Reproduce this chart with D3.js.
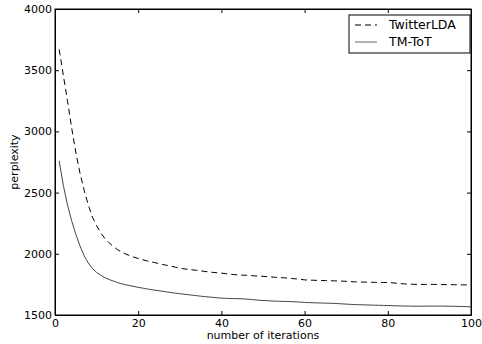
<!DOCTYPE html>
<html lang="en">
<head>
    <style>
        body { margin: 0; background: #fff; }
        text { font-family: "DejaVu Sans", sans-serif; fill: #000; }
        .axis path, .axis line { stroke: #000; }
    </style>
    <script src="https://cdn.jsdelivr.net/npm/d3@7"></script>
</head>
<body>
    <svg id="chartContainer" width="482" height="344"></svg>
<script>
    // perplexity per iteration (1..100)
    var twitterLDA = [
        3670, 3460, 3250, 3030, 2830, 2660, 2520, 2400, 2300, 2230,
        2170, 2125, 2090, 2060, 2035, 2015, 1998, 1985, 1972, 1962,
        1952, 1943, 1935, 1928, 1920, 1912, 1905, 1898, 1890, 1882,
        1877, 1873, 1869, 1865, 1860, 1856, 1852, 1848, 1845, 1842,
        1838, 1834, 1830, 1828, 1826, 1824, 1822, 1820, 1818, 1816,
        1813, 1810, 1808, 1806, 1804, 1801, 1798, 1795, 1791, 1787,
        1785, 1784, 1783, 1782, 1781, 1780, 1779, 1778, 1777, 1775,
        1773, 1771, 1770, 1769, 1768, 1767, 1767, 1766, 1766, 1765,
        1763, 1760, 1757, 1754, 1752, 1751, 1750, 1750, 1750, 1750,
        1750, 1749, 1749, 1748, 1748, 1747, 1747, 1746, 1746, 1745
    ];
    var tmToT = [
        2760, 2560, 2400, 2270, 2160, 2065, 1985, 1925, 1880, 1848,
        1825, 1805, 1790, 1778, 1765, 1755, 1747, 1740, 1733, 1726,
        1720, 1714, 1708, 1703, 1698, 1693, 1688, 1683, 1678, 1674,
        1670, 1666, 1662, 1658, 1654, 1650, 1647, 1644, 1641, 1638,
        1636, 1635, 1634, 1633, 1632, 1630, 1627, 1624, 1621, 1618,
        1617, 1615, 1613, 1612, 1611, 1610, 1609, 1607, 1605, 1603,
        1601, 1600, 1599, 1598, 1597, 1596, 1595, 1593, 1591, 1589,
        1587, 1585, 1584, 1583, 1582, 1581, 1580, 1579, 1578, 1577,
        1576, 1575, 1574, 1573, 1573, 1572, 1572, 1572, 1572, 1573,
        1573, 1573, 1573, 1572, 1572, 1571, 1570, 1569, 1568, 1567
    ];
    var seriesNames = ["TwitterLDA", "TM-ToT"];
    var xTicks = [0, 20, 40, 60, 80, 100];
    var yTicks = [1500, 2000, 2500, 3000, 3500, 4000];

    var svg = d3.select("svg"),
        plotLeft = 55, plotRight = 471, plotTop = 9, plotBottom = 315;

    var xScale = d3.scaleLinear().domain([0, 100]).range([plotLeft, plotRight]),
        yScale = d3.scaleLinear().domain([1500, 4000]).range([plotBottom, plotTop]);

    // inward ticks on all four sides
    svg.append("g").attr("class", "axis")
       .attr("transform", "translate(0," + plotBottom + ")")
       .call(d3.axisBottom(xScale).tickValues(xTicks).tickSize(-4).tickPadding(4).tickSizeOuter(0))
       .selectAll("text").style("font-size", "11px");
    svg.append("g").attr("class", "axis")
       .attr("transform", "translate(0," + plotTop + ")")
       .call(d3.axisTop(xScale).tickValues(xTicks).tickSize(-4).tickFormat("").tickSizeOuter(0));
    svg.append("g").attr("class", "axis")
       .attr("transform", "translate(" + plotLeft + ",0)")
       .call(d3.axisLeft(yScale).tickValues(yTicks).tickFormat(d3.format("d"))
               .tickSize(-4).tickPadding(3).tickSizeOuter(0))
       .selectAll("text").style("font-size", "11px");
    svg.append("g").attr("class", "axis")
       .attr("transform", "translate(" + plotRight + ",0)")
       .call(d3.axisRight(yScale).tickValues(yTicks).tickSize(-4).tickFormat("").tickSizeOuter(0));

    svg.append("rect")
       .attr("x", plotLeft).attr("y", plotTop)
       .attr("width", plotRight - plotLeft).attr("height", plotBottom - plotTop)
       .attr("fill", "none").attr("stroke", "#000");

    var line = d3.line()
        .x(function(d, i) { return xScale(i + 1); })
        .y(function(d) { return yScale(d); });

    svg.append("path").datum(twitterLDA)
       .attr("d", line).attr("fill", "none")
       .attr("stroke", "#000").attr("stroke-width", 1)
       .attr("stroke-dasharray", "6,4");
    svg.append("path").datum(tmToT)
       .attr("d", line).attr("fill", "none")
       .attr("stroke", "#444").attr("stroke-width", 1);

    // axis labels
    svg.append("text")
       .attr("x", (plotLeft + plotRight) / 2).attr("y", 339)
       .attr("text-anchor", "middle").style("font-size", "11px")
       .text("number of iterations");
    svg.append("text")
       .attr("transform", "translate(14," + ((plotTop + plotBottom) / 2) + ") rotate(-90)")
       .attr("text-anchor", "middle").attr("dy", "0.35em").style("font-size", "11px")
       .text("perplexity");

    // legend
    var legend = svg.append("g");
    legend.append("rect")
       .attr("x", 349).attr("y", 15).attr("width", 121).attr("height", 38)
       .attr("fill", "#fff").attr("stroke", "#000");
    seriesNames.forEach(function(name, i) {
        var y = 25 + i * 17;
        legend.append("line")
           .attr("x1", 355).attr("x2", 377).attr("y1", y).attr("y2", y)
           .attr("stroke", i === 0 ? "#000" : "#666")
           .attr("stroke-dasharray", i === 0 ? "6,4" : null);
        legend.append("text")
           .attr("x", 389).attr("y", y).attr("dy", "0.35em")
           .style("font-size", "12.5px")
           .text(name);
    });
</script>
</body>
</html>
